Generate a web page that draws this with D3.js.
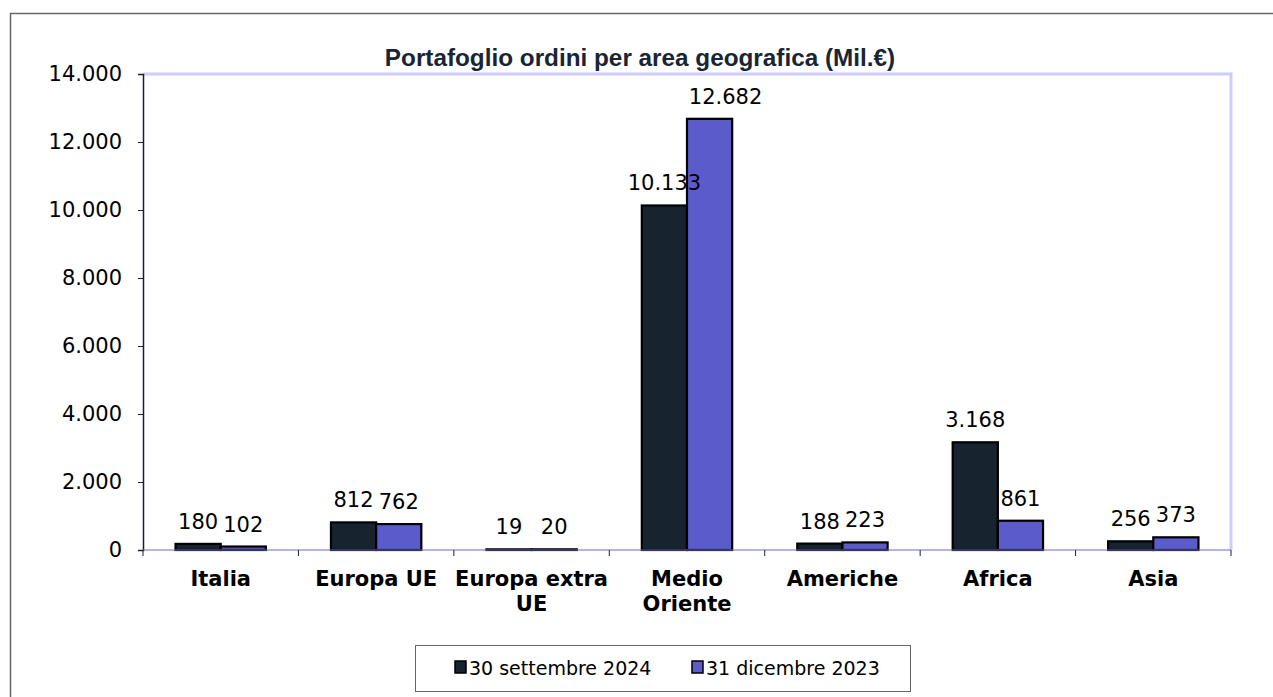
<!DOCTYPE html>
<html>
<head>
<meta charset="utf-8">
<script src="https://cdn.jsdelivr.net/npm/d3@7"></script>
<style>
  body { margin: 0; background: #fff; }
  svg { display: block; }
</style>
</head>
<body>
<script>
// data
var categories = [["Italia"], ["Europa UE"], ["Europa extra", "UE"], ["Medio", "Oriente"], ["Americhe"], ["Africa"], ["Asia"]];
var seriesNames = ["30 settembre 2024", "31 dicembre 2023"];
var sep2024 = [180, 812, 19, 10133, 188, 3168, 256];
var dec2023 = [102, 762, 20, 12682, 223, 861, 373];
var yTicks = [0, 2000, 4000, 6000, 8000, 10000, 12000, 14000];

var W = 1273, H = 697;
var colors = ["#17232f", "#5b5bcc"];
var fmt = function(v) { return d3.format(",")(v).replace(/,/g, "."); };
var FONT = "DejaVu Sans, Verdana, sans-serif";

var svg = d3.select("body").append("svg").attr("width", W).attr("height", H);

// outer frame (runs off the right and bottom)
svg.append("rect")
    .attr("x", 10.5).attr("y", 13.5)
    .attr("width", W).attr("height", H)
    .attr("fill", "none").attr("stroke", "#666").attr("stroke-width", 1.5);

var plotL = 143, plotT = 74, plotR = 1231, plotB = 550;

var x0 = d3.scaleBand().domain(d3.range(categories.length)).range([plotL, plotR]).paddingInner(0).paddingOuter(0);
var x1 = d3.scaleBand().domain([0, 1]).range([0, x0.bandwidth()]).paddingOuter(0.72).paddingInner(0);
var y = d3.scaleLinear().domain([0, 14000]).range([plotB, plotT]);

// plot area border (top & right)
svg.append("path")
    .attr("d", "M" + plotL + "," + plotT + "H" + plotR + "V" + plotB)
    .attr("fill", "none").attr("stroke", "#ccccff").attr("stroke-width", 3);

// title
svg.append("text")
    .attr("x", 640).attr("y", 66)
    .attr("text-anchor", "middle")
    .attr("font-family", "Liberation Sans, Arial, sans-serif")
    .attr("font-weight", "bold").attr("font-size", 24.3)
    .attr("fill", "#1a2533")
    .text("Portafoglio ordini per area geografica (Mil.€)");

// y axis
var yAxis = svg.append("g")
    .attr("transform", "translate(" + plotL + ",0)")
    .call(d3.axisLeft(y).tickValues(yTicks).tickSize(5).tickPadding(16).tickFormat(fmt));
yAxis.select(".domain").attr("stroke", "#1a1a40").attr("stroke-width", 1.5);
yAxis.selectAll(".tick line").attr("stroke", "#222");
yAxis.selectAll(".tick text")
    .attr("font-family", FONT)
    .attr("font-size", 21).attr("fill", "#000");

// bars
var series = [sep2024, dec2023];
series.forEach(function(vals, s) {
    svg.append("g").selectAll("rect")
        .data(vals)
        .join("rect")
        .attr("x", function(d, i) { return x0(i) + x1(s); })
        .attr("y", function(d) { return y(d); })
        .attr("width", x1.bandwidth())
        .attr("height", function(d) { return plotB - y(d); })
        .attr("fill", colors[s])
        .attr("stroke", "#000").attr("stroke-width", 2.2);
});

// x axis line and category ticks
svg.append("line")
    .attr("x1", plotL).attr("x2", plotR).attr("y1", plotB).attr("y2", plotB)
    .attr("stroke", "#6a6acc").attr("stroke-width", 1.2);
svg.append("g").selectAll("line")
    .data(d3.range(categories.length + 1))
    .join("line")
    .attr("x1", function(i) { return plotL + i * x0.bandwidth(); })
    .attr("x2", function(i) { return plotL + i * x0.bandwidth(); })
    .attr("y1", plotB).attr("y2", plotB + 6)
    .attr("stroke", "#222").attr("stroke-width", 1);

// value labels (the tall 12.682 label sits a bit to the right, as in the original)
series.forEach(function(vals, s) {
    svg.append("g").selectAll("text")
        .data(vals)
        .join("text")
        .attr("x", function(d, i) {
            var cx = x0(i) + x1(s) + x1.bandwidth() / 2;
            if (s === 1 && d === d3.max(vals)) cx += 16;
            return cx;
        })
        .attr("y", function(d) { return y(d) - 15; })
        .attr("text-anchor", "middle")
        .attr("font-family", FONT)
        .attr("font-size", 21).attr("fill", "#000")
        .text(fmt);
});

// category labels
var catG = svg.append("g").selectAll("text")
    .data(categories)
    .join("text")
    .attr("x", function(d, i) { return x0(i) + x0.bandwidth() / 2; })
    .attr("y", 586)
    .attr("text-anchor", "middle")
    .attr("font-family", FONT)
    .attr("font-weight", "bold").attr("font-size", 21).attr("fill", "#000");
catG.each(function(lines) {
    var t = d3.select(this), cx = t.attr("x");
    lines.forEach(function(l, k) {
        t.append("tspan").attr("x", cx).attr("dy", k === 0 ? 0 : 25).text(l);
    });
});

// legend
var legend = svg.append("g");
legend.append("rect")
    .attr("x", 415.5).attr("y", 645.5).attr("width", 495).attr("height", 46)
    .attr("fill", "#fff").attr("stroke", "#666").attr("stroke-width", 1);
var legendX = [455, 692];
seriesNames.forEach(function(name, s) {
    legend.append("rect")
        .attr("x", legendX[s]).attr("y", 661).attr("width", 11).attr("height", 12)
        .attr("fill", colors[s]).attr("stroke", "#000").attr("stroke-width", 1.5);
    legend.append("text")
        .attr("x", legendX[s] + 14).attr("y", 675)
        .attr("font-family", FONT)
        .attr("font-size", 19).attr("fill", "#000")
        .text(name);
});
</script>
</body>
</html>
